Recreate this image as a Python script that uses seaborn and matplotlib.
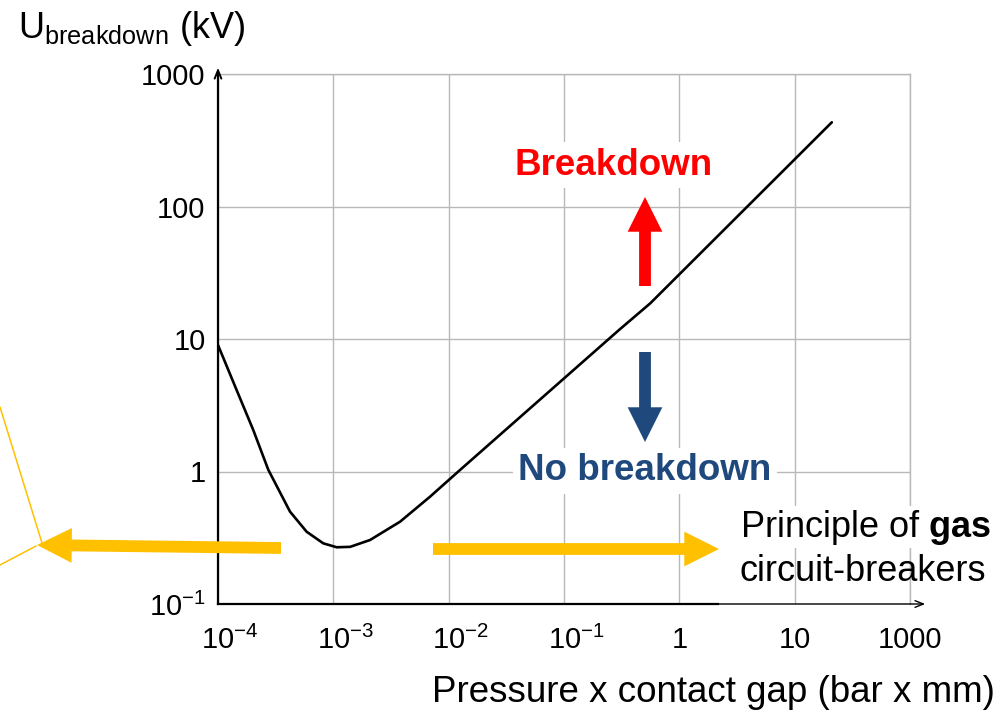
import matplotlib
matplotlib.use("Agg")
import matplotlib.pyplot as plt
import matplotlib.transforms as mtransforms
import seaborn as sns
from matplotlib.lines import Line2D

# Paschen-like curve
pressure_gap = [1.0e-4, 1.45e-4, 2.02e-4, 2.73e-4, 4.21e-4, 5.87e-4, 8.18e-4, 1.07e-3,
                1.40e-3, 2.08e-3, 3.79e-3, 6.9e-3, 1.26e-2, 0.30, 0.56, 21.0]
u_breakdown = [9.0, 4.12, 2.06, 1.03, 0.498, 0.351, 0.287, 0.268,
               0.270, 0.304, 0.418, 0.646, 1.03, 11.7, 18.6, 432.0]

x_ticks = [1e-4, 1e-3, 1e-2, 1e-1, 1, 10, 100]
x_labels = [r"$\mathregular{10^{-4}}$", r"$\mathregular{10^{-3}}$", r"$\mathregular{10^{-2}}$",
            r"$\mathregular{10^{-1}}$", "1", "10", "1000"]
y_ticks = [0.1, 1, 10, 100, 1000]
y_labels = [r"$\mathregular{10^{-1}}$", "1", "10", "100", "1000"]

sns.set_theme(style="white")
plt.rcParams["font.family"] = ["Liberation Sans", "DejaVu Sans"]
plt.rcParams["mathtext.fontset"] = "custom"
plt.rcParams["mathtext.rm"] = "Liberation Sans"
plt.rcParams["mathtext.it"] = "Liberation Sans:italic"
plt.rcParams["mathtext.bf"] = "Liberation Sans:bold"

fig = plt.figure(figsize=(10.02, 7.14), dpi=100)
ax = fig.add_axes([218 / 1002, 1 - 604 / 714, 692 / 1002, 530 / 714])

sns.lineplot(x=pressure_gap, y=u_breakdown, sort=False, estimator=None,
             color="black", linewidth=1.9, ax=ax, zorder=3)

ax.set_xscale("log")
ax.set_yscale("log")
ax.set_xlim(1e-4, 100)
ax.set_ylim(0.1, 1000)
ax.set_xticks(x_ticks)
ax.set_xticklabels(x_labels)
ax.set_yticks(y_ticks)
ax.set_yticklabels(y_labels)
ax.minorticks_off()
ax.tick_params(axis="both", length=0, labelsize=21, colors="black")
ax.tick_params(axis="x", pad=16)
ax.tick_params(axis="y", pad=9)
ax.grid(True, color="#b8b8b8", linewidth=1.0)
ax.set_xlabel("")
ax.set_ylabel("")

# the "10" of the power labels sits on the grid line, exponent hangs to the right
shift = mtransforms.ScaledTranslation(12 / 100, 0, fig.dpi_scale_trans)
for lab in ax.get_xticklabels()[:4]:
    lab.set_transform(lab.get_transform() + shift)

for s in ["top", "right"]:
    ax.spines[s].set_color("#b8b8b8")
    ax.spines[s].set_linewidth(1.0)
ax.spines["left"].set_color("black")
ax.spines["left"].set_linewidth(1.6)
ax.spines["bottom"].set_color("black")
ax.spines["bottom"].set_linewidth(1.6)
ax.spines["bottom"].set_bounds(1e-4, 2.17)

# axis arrows
ax.annotate("", xy=(1.022, 0), xytext=(0.72, 0), xycoords="axes fraction",
            arrowprops=dict(arrowstyle="->,head_length=0.5,head_width=0.2",
                            color="black", lw=1.0, shrinkA=0, shrinkB=0),
            annotation_clip=False)
ax.annotate("", xy=(0, 1.012), xytext=(0, 0.95), xycoords="axes fraction",
            arrowprops=dict(arrowstyle="->,head_length=0.5,head_width=0.2",
                            color="black", lw=1.4, shrinkA=0, shrinkB=0),
            annotation_clip=False)

# region labels
ax.text(0.572, 0.828, "Breakdown", transform=ax.transAxes, ha="center", va="center",
        fontsize=26.5, fontweight="bold", color="#ff0000", zorder=4,
        bbox=dict(facecolor="white", edgecolor="none", pad=4))
ax.text(0.617, 0.251, "No breakdown", transform=ax.transAxes, ha="center", va="center",
        fontsize=26.5, fontweight="bold", color="#1f497d", zorder=4,
        bbox=dict(facecolor="white", edgecolor="none", pad=4))
ax.text(0.754, 0.145, r"Principle of $\mathbf{gas}$", transform=ax.transAxes,
        ha="left", va="center", fontsize=26, color="black", zorder=4,
        bbox=dict(facecolor="white", edgecolor="none", pad=1))
ax.text(0.754, 0.062, "circuit-breakers", transform=ax.transAxes,
        ha="left", va="center", fontsize=26, color="black", zorder=4)

big = "simple,head_length=0.5,head_width=0.5,tail_width=0.17"


def fp(x, y):
    # reference pixel -> figure pixels (origin bottom-left)
    return (x, 714 - y)


arrows = [((645, 286), (645, 197), "#ff0000"),
          ((645, 352), (645, 442), "#1f497d"),
          ((281, 548), (37, 545), "#ffc000"),
          ((433, 549), (719, 549), "#ffc000")]
for tail, tip, col in arrows:
    ax.annotate("", xy=fp(*tip), xytext=fp(*tail), xycoords="figure pixels",
                textcoords="figure pixels",
                arrowprops=dict(arrowstyle=big, mutation_scale=50, color=col,
                                shrinkA=0, shrinkB=0, lw=0),
                annotation_clip=False, zorder=5)

# thin yellow callout lines cut at the left edge
fig.add_artist(Line2D([0, 42 / 1002], [1 - 407 / 714, 1 - 543 / 714],
                      transform=fig.transFigure, color="#ffc000", lw=1.1))
fig.add_artist(Line2D([0, 36 / 1002], [1 - 565 / 714, 1 - 546 / 714],
                      transform=fig.transFigure, color="#ffc000", lw=1.1))

# axis titles
fig.text(18 / 1002, 1 - 28 / 714, r"U$_{\mathregular{breakdown}}$ (kV)",
         ha="left", va="center", fontsize=26, color="black")
fig.text(995 / 1002, 1 - 692 / 714, "Pressure x contact gap (bar x mm)",
         ha="right", va="center", fontsize=26.5, color="black")

fig.savefig("out.png", dpi=100)
plt.close(fig)
